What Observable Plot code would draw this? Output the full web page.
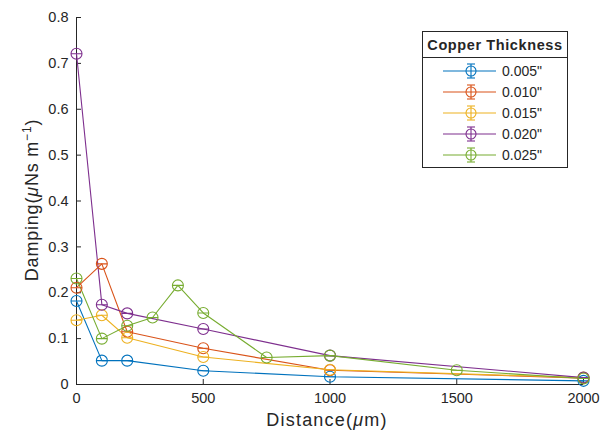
<!DOCTYPE html>
<html>
<head>
<meta charset="utf-8">
<script src="https://cdn.jsdelivr.net/npm/d3@7"></script>
<script src="https://cdn.jsdelivr.net/npm/@observablehq/plot@0.6"></script>
<style>
  html, body { margin: 0; padding: 0; background: #fff; }
  #wrap { position: relative; width: 612px; height: 439px; font-family: "Liberation Sans", Arial, sans-serif; color: #262626; }
  .lbl { position: absolute; font-size: 18px; color: #262626; white-space: nowrap; letter-spacing: 1.2px; line-height: 20px; }
  #legend { position: absolute; left: 422px; top: 31px; width: 146px; height: 137px; border: 1px solid #262626; box-sizing: border-box; background: #fff; }
  #legend .title { font-weight: bold; font-size: 14.5px; letter-spacing: 0.6px; text-align: center; height: 25px; line-height: 26px; border-bottom: 1px solid #262626; white-space: nowrap; }
</style>
</head>
<body>
<div id="wrap"></div>
<script>
const seriesNames = ['0.005"', '0.010"', '0.015"', '0.020"', '0.025"'];
const seriesColors = ["#0072BD", "#D95319", "#EDB120", "#7E2F8E", "#77AC30"];
const dist005 = [0, 100, 200, 500, 1000, 2000];
const damp005 = [0.182, 0.052, 0.052, 0.030, 0.017, 0.008];
const dist010 = [0, 100, 200, 500, 1000, 2000];
const damp010 = [0.211, 0.263, 0.115, 0.079, 0.031, 0.014];
const dist015 = [0, 100, 200, 500, 1000, 2000];
const damp015 = [0.140, 0.151, 0.102, 0.060, 0.032, 0.015];
const dist020 = [0, 100, 200, 500, 1000, 2000];
const damp020 = [0.721, 0.174, 0.155, 0.121, 0.063, 0.015];
const dist025 = [0, 100, 200, 300, 400, 500, 750, 1000, 1500, 2000];
const damp025 = [0.231, 0.100, 0.128, 0.146, 0.216, 0.156, 0.059, 0.063, 0.031, 0.013];
const xTicks = [0, 500, 1000, 1500, 2000];
const yTicks = [0, 0.1, 0.2, 0.3, 0.4, 0.5, 0.6, 0.7, 0.8];

const dists = [dist005, dist010, dist015, dist020, dist025];
const damps = [damp005, damp010, damp015, damp020, damp025];
const data = [];
seriesNames.forEach((s, i) => dists[i].forEach((d, j) => data.push({series: s, distance: d, damping: damps[i][j]})));

// open circle with the (tiny) error-bar caps drawn through it
const errCircle = {
  draw(context, size) {
    const r = Math.sqrt(size / Math.PI);
    context.moveTo(r, 0);
    context.arc(0, 0, r, 0, 2 * Math.PI);
    context.moveTo(-r, 0);
    context.lineTo(r, 0);
  }
};

const axisColor = "#262626";
const chart = Plot.plot({
  width: 612,
  height: 439,
  marginLeft: 76,
  marginRight: 29,
  marginTop: 17,
  marginBottom: 55,
  style: {fontFamily: "Liberation Sans, Arial, sans-serif", fontSize: "14.5px", color: axisColor, background: "#fff"},
  x: {domain: [0, 2000], ticks: xTicks, tickSize: -5, tickPadding: 13, label: null, tickFormat: d3.format("d")},
  y: {domain: [0, 0.8], ticks: yTicks, tickSize: -5, tickPadding: 13, label: null, tickFormat: d => d === 0 ? "0" : d3.format(".1f")(d)},
  color: {domain: seriesNames, range: seriesColors},
  marks: [
    Plot.ruleX([0], {stroke: axisColor}),
    Plot.ruleY([0], {stroke: axisColor}),
    Plot.line(data, {x: "distance", y: "damping", z: "series", stroke: "series", strokeWidth: 1.1}),
    Plot.dot(data, {x: "distance", y: "damping", stroke: "series", symbol: () => errCircle, r: 5.5, strokeWidth: 1.1, fill: "none"})
  ]
});
const wrap = document.getElementById("wrap");
wrap.appendChild(chart);

const xl = document.createElement("div");
xl.className = "lbl";
xl.innerHTML = 'Distance(<i>μ</i>m)';
xl.style.left = "327px"; xl.style.top = "410px"; xl.style.transform = "translateX(-50%)";
wrap.appendChild(xl);

const yl = document.createElement("div");
yl.className = "lbl";
yl.style.letterSpacing = "0.8px";
yl.innerHTML = 'Damping(<i>μ</i>Ns m<sup style="font-size:12px;vertical-align:7px">−1</sup>)';
yl.style.left = "29px"; yl.style.top = "200px"; yl.style.transform = "translate(-50%,-50%) rotate(-90deg)";
wrap.appendChild(yl);

const lg = document.createElement("div");
lg.id = "legend";
let html = '<div class="title">Copper Thickness</div>';
html += '<svg width="144" height="110" style="display:block">';
seriesNames.forEach((s, i) => {
  const y = 13 + i * 21;
  const c = seriesColors[i];
  html += `<line x1="20" x2="73" y1="${y}" y2="${y}" stroke="${c}" stroke-width="1.1"/>`;
  html += `<circle cx="48" cy="${y}" r="5" stroke="${c}" fill="none" stroke-width="1.1"/>`;
  html += `<line x1="48" x2="48" y1="${y-7}" y2="${y+7}" stroke="${c}" stroke-width="1.1"/>`;
  html += `<line x1="44" x2="52" y1="${y-7}" y2="${y-7}" stroke="${c}" stroke-width="1.1"/>`;
  html += `<line x1="44" x2="52" y1="${y+7}" y2="${y+7}" stroke="${c}" stroke-width="1.1"/>`;
  html += `<text x="79" y="${y+5}" font-size="14" fill="#262626" font-family="Liberation Sans, Arial, sans-serif">${s}</text>`;
});
html += '</svg>';
lg.innerHTML = html;
wrap.appendChild(lg);
</script>
</body>
</html>
